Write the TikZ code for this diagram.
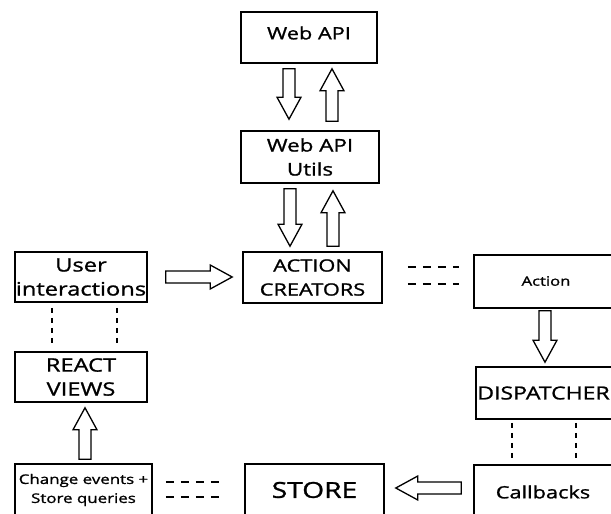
\documentclass[tikz,border=0pt]{standalone}
\usepackage{fontspec}
\setmainfont{Open Sans}[FakeStretch=1.28, FakeBold=1.2]
\usetikzlibrary{calc}

\tikzset{
  box/.style={draw, line width=1.6pt, inner sep=0pt, align=center,
              minimum width=#1},
  box/.default=138pt,
  barrow/.style={draw, line width=1.3pt, fill=white, line join=miter},
  dotline/.style={line width=2.4pt, dash pattern=on 5pt off 5pt},
  dashline/.style={line width=1.3pt, dash pattern=on 8pt off 7pt},
}

% hollow block arrow from #2 to #3
\newcommand\blockarrow[3][]{%
  \draw[barrow,#1] let \p1=#2, \p2=#3,
    \n1={atan2(\y2-\y1,\x2-\x1)}, \n2={veclen(\x2-\x1,\y2-\y1)} in
    [shift={(\p1)}, rotate=\n1]
    (0pt,-6pt) -- (\n2-22pt,-6pt) -- (\n2-22pt,-12pt) -- (\n2,0pt)
    -- (\n2-22pt,12pt) -- (\n2-22pt,6pt) -- (0pt,6pt) -- cycle;}

\begin{document}
\begin{tikzpicture}[x=1pt, y=-1pt]
  \useasboundingbox (0,0) rectangle (611,514);

  % boxes
  \node[box=136pt, minimum height=51pt] (webapi) at (309,37.5) {};
  \node[font=\fontsize{17}{20}\selectfont] at (309,33) {Web API};
  \node[box=138pt, minimum height=52pt, font=\fontsize{17.5}{24}\selectfont]
       (utils) at (310,157) {Web API\\Utils};
  \node[box=139pt, minimum height=51pt, font=\fontsize{17}{24}\selectfont]
       (creators) at (312.5,277.5) {ACTION\\CREATORS};
  \node[box=132pt, minimum height=50pt, font=\fontsize{18.5}{24}\selectfont]
       (user) at (81,277) {User\\interactions};
  \node[box=132pt, minimum height=50pt, font=\fontsize{18.5}{24}\selectfont]
       (react) at (81,377) {REACT\\VIEWS};
  \node[box=137pt, minimum height=52pt, font=\fontsize{13.2}{19}\selectfont]
       (change) at (83.5,490) {Change events +\\Store queries};
  \node[box=139pt, minimum height=52pt, font=\fontsize{22}{28}\selectfont]
       (store) at (314.5,490) {STORE};
  \node[box=140pt, minimum height=53pt] (action) at (544,281.5) {};
  \node[font=\fontsize{13}{16}\selectfont] at (546,281) {Action};
  \node[box=140pt, minimum height=52pt] (dispatcher) at (546,393) {};
  \node[font=\fontsize{18}{20}\selectfont] at (543.5,393) {DISPATCHER};
  \node[box=140pt, minimum height=52pt] (callbacks) at (544,491) {};
  \node[font=\fontsize{17}{20}\selectfont] at (543,492) {Callbacks};

  % block arrows
  \blockarrow{($(webapi.south)+(-20,5)$)}{($(utils.north)+(-21,-11)$)}
  \blockarrow{($(utils.north)+(22,-9)$)}{($(webapi.south)+(23,5)$)}
  \blockarrow{($(utils.south)+(-20,5)$)}{($(creators.north)+(-22.5,-5)$)}
  \blockarrow{($(creators.north)+(20.5,-5)$)}{($(utils.south)+(23,7)$)}
  \blockarrow{($(user.east)+(18,0)$)}{($(creators.west)+(-10,-0.5)$)}
  \blockarrow{($(action.south)+(1,2)$)}{($(dispatcher.north)+(-1,-4)$)}
  \blockarrow{($(callbacks.west)+(-12,-3)$)}{($(store.east)+(11,-2)$)}
  \blockarrow{($(change.north)+(1.5,-4)$)}{($(react.south)+(4,5)$)}

  % dotted links
  \draw[dotline] ($(user.south)+(-29,5)$) -- ($(react.north)+(-29,-5)$);
  \draw[dotline] ($(user.south)+(36,5)$) -- ($(react.north)+(36,-5)$);
  \draw[dotline] ($(dispatcher.south)+(-34,3)$) -- ($(callbacks.north)+(-32,-4)$);
  \draw[dotline] ($(dispatcher.south)+(30,3)$) -- ($(callbacks.north)+(32,-4)$);

  % dashed links
  \draw[dashline] ($(creators.east)+(25,-10.5)$) -- ($(action.west)+(-14,-14.5)$);
  \draw[dashline] ($(creators.east)+(25,6.5)$) -- ($(action.west)+(-14,2.5)$);
  \draw[dashline] ($(change.east)+(13,-8)$) -- ($(store.west)+(-25,-8)$);
  \draw[dashline] ($(change.east)+(13,7)$) -- ($(store.west)+(-25,7)$);
\end{tikzpicture}
\end{document}
